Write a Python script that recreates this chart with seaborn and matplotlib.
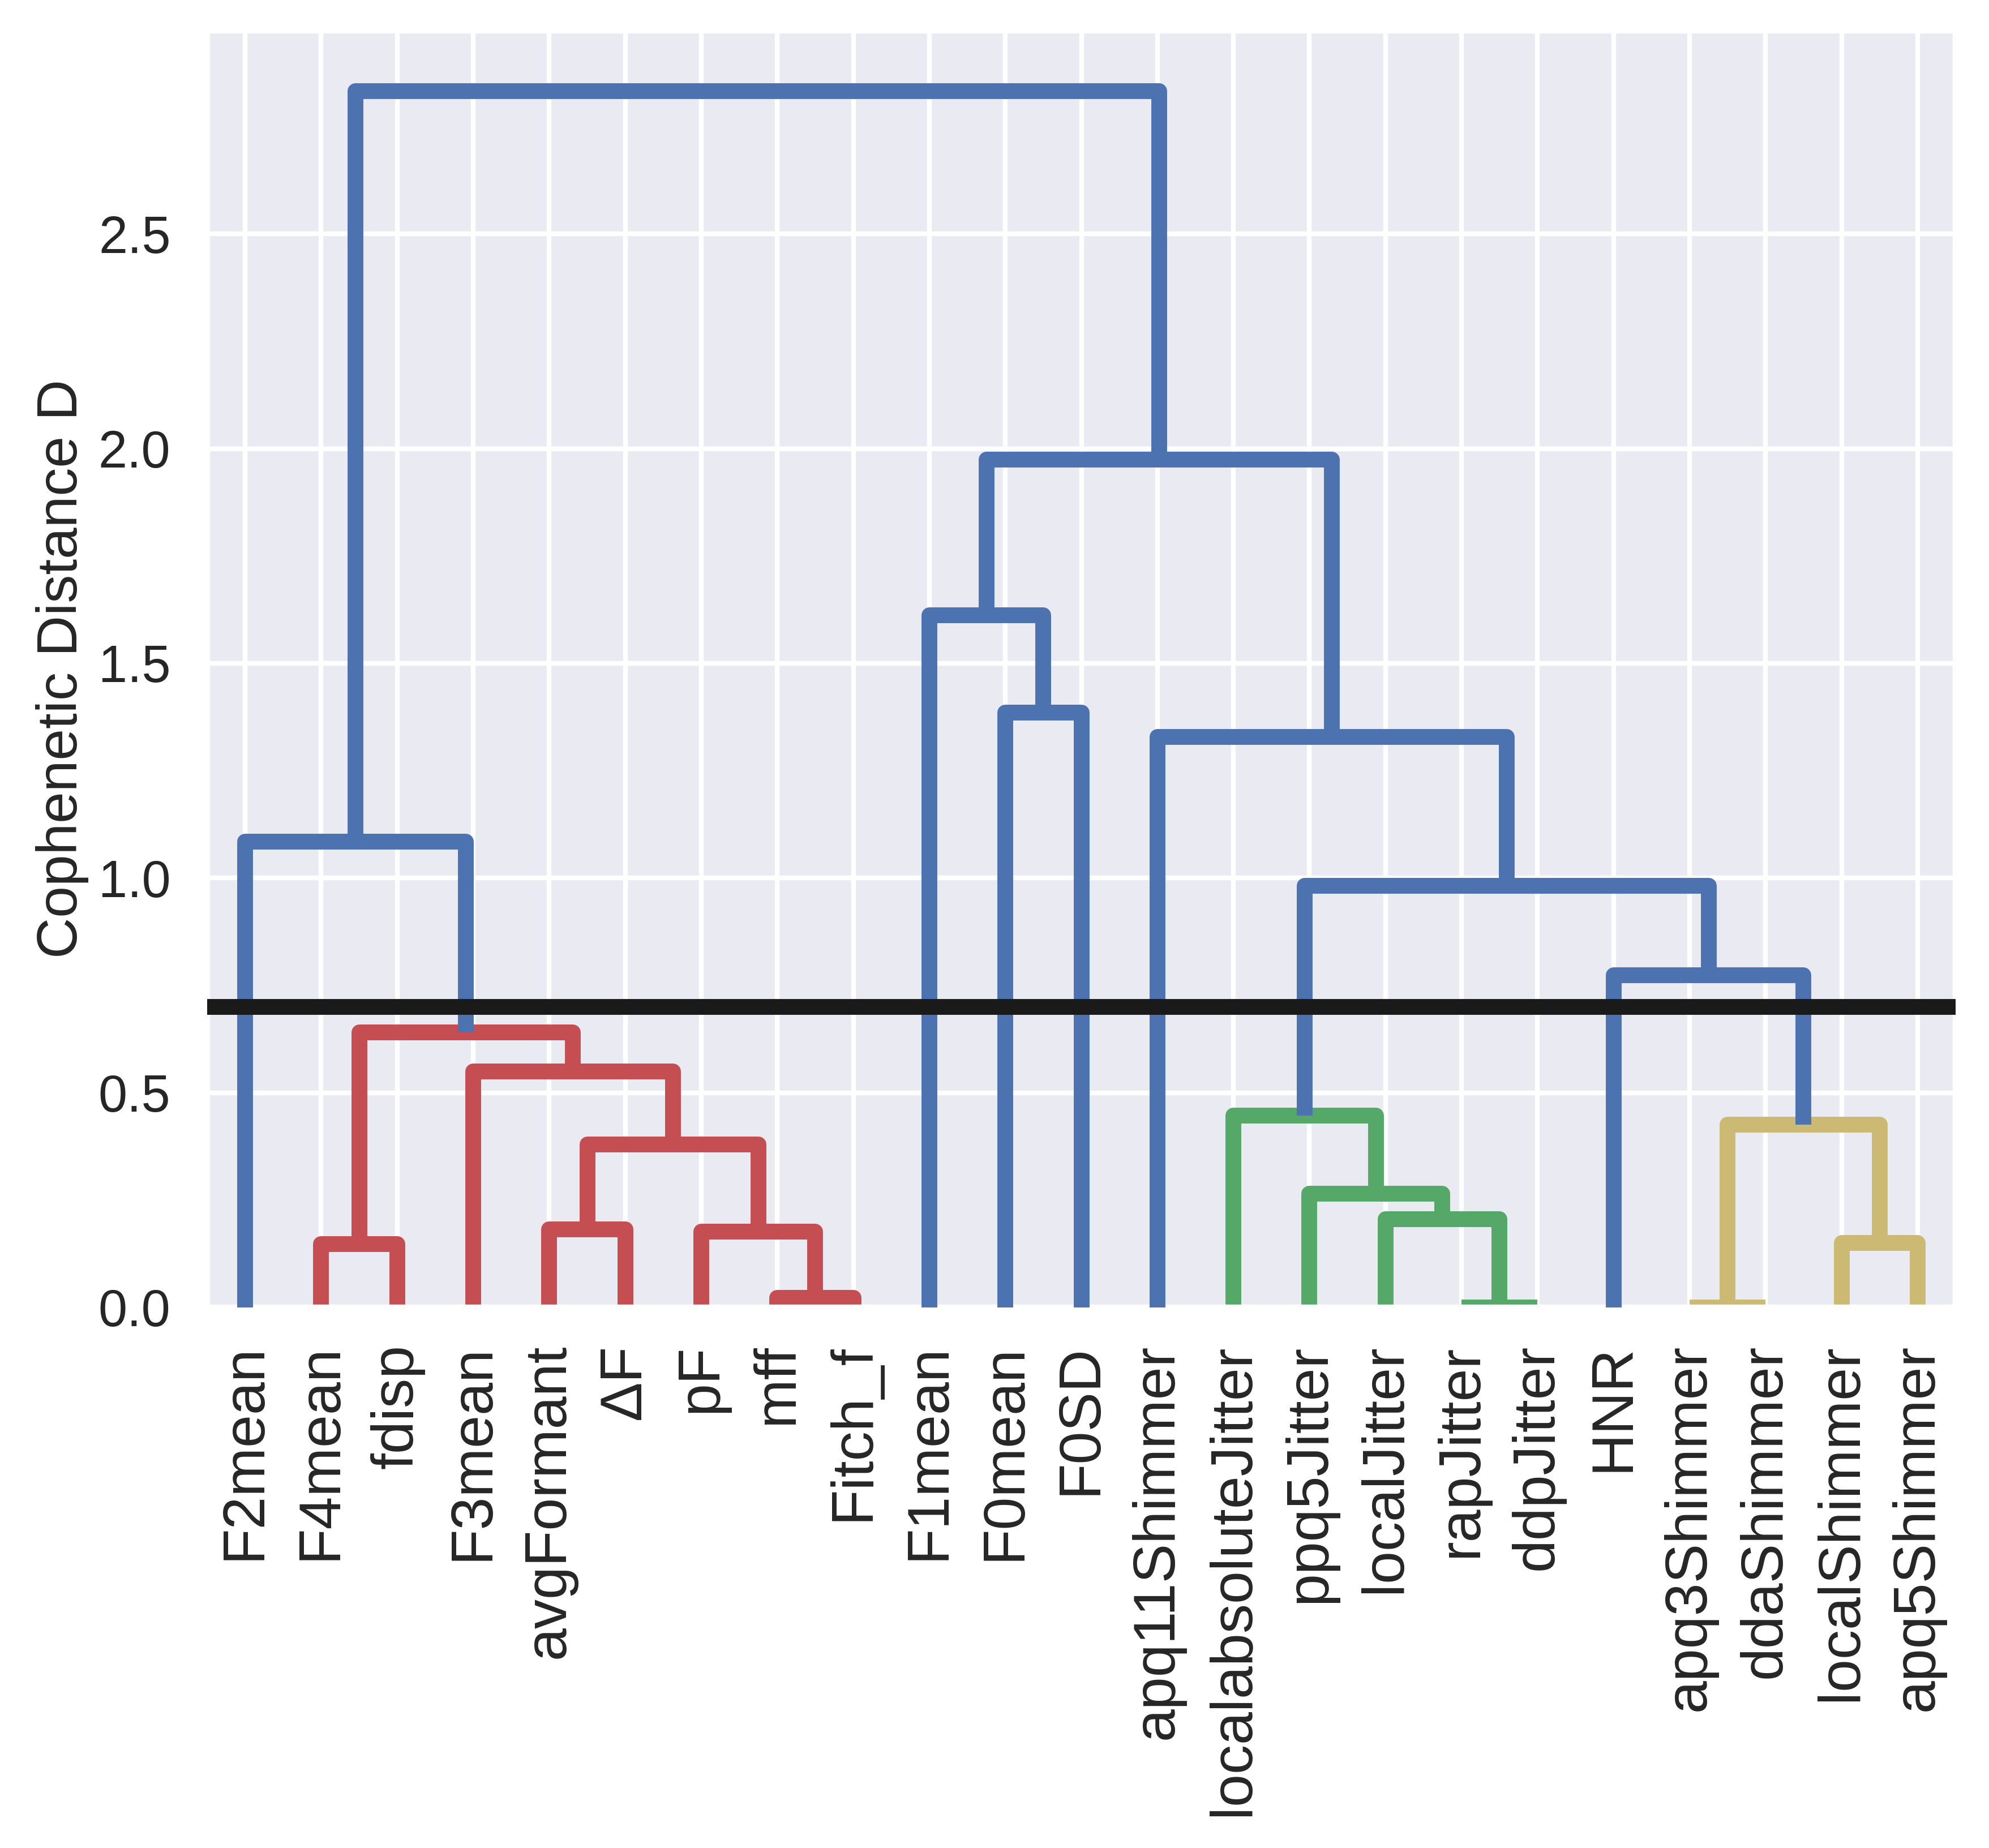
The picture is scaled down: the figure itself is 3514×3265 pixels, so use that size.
import numpy as np
import pandas as pd
import matplotlib
matplotlib.use('Agg')
import matplotlib.pyplot as plt
import seaborn as sns

sns.set_theme(context='poster', style='darkgrid', color_codes=True)
plt.rcParams['font.family'] = ['Liberation Sans', 'DejaVu Sans']

# leaves in dendrogram order
leaf_labels = ['F2mean', 'F4mean', 'fdisp', 'F3mean', 'avgFormant', 'ΔF', 'pF', 'mff',
               'Fitch_f', 'F1mean', 'F0mean', 'F0SD', 'apq11Shimmer', 'localabsoluteJitter',
               'ppq5Jitter', 'localJitter', 'rapJitter', 'ddpJitter', 'HNR', 'apq3Shimmer',
               'ddaShimmer', 'localShimmer', 'apq5Shimmer']

# linkage (scipy style): node ids < n are leaves, n + k is merge k
link_left = [16, 19, 7, 1, 21, 6, 4, 15, 14, 29, 24, 13, 3, 26, 18, 34, 0, 12, 10, 9, 42, 39]
link_right = [17, 20, 8, 2, 22, 25, 5, 23, 30, 28, 27, 31, 32, 35, 33, 37, 36, 38, 11, 41, 40, 43]
link_height = [0.0, 0.0, 0.023, 0.147, 0.15, 0.176, 0.182, 0.206, 0.265, 0.379, 0.426,
               0.447, 0.55, 0.641, 0.774, 0.982, 1.085, 1.329, 1.385, 1.612, 1.974, 2.832]

threshold = 0.7
cluster_colors = ['r', 'g', 'y']
above_color = 'b'

n = len(leaf_labels)
links = pd.DataFrame({'left': link_left, 'right': link_right, 'height': link_height})

# node positions
node_x = {i: 5 + 10 * i for i in range(n)}
node_h = {i: 0.0 for i in range(n)}
parent = {}
for k, row in links.iterrows():
    node = n + k
    node_x[node] = (node_x[row['left']] + node_x[row['right']]) / 2
    node_h[node] = row['height']
    parent[row['left']] = node
    parent[row['right']] = node

# colour clusters below the cut
def cluster_root(node):
    while node in parent and node_h[parent[node]] < threshold:
        node = parent[node]
    return node

roots = sorted({cluster_root(n + k) for k in range(len(links)) if link_height[k] < threshold},
               key=lambda r: node_x[r])
root_color = {r: cluster_colors[i % len(cluster_colors)] for i, r in enumerate(roots)}

fig = plt.figure(figsize=(3514 / 300, 3265 / 300), dpi=300)
ax = fig.add_axes([366 / 3514, 1 - 2310 / 3265, (3455 - 366) / 3514, (2310 - 54) / 3265])

lw = 6.7
for k, row in links.iterrows():
    node = n + k
    l, r, h = row['left'], row['right'], row['height']
    if h < threshold:
        c, z = root_color[cluster_root(node)], 2
    else:
        c, z = above_color, 3
    ax.plot([node_x[l], node_x[l], node_x[r], node_x[r]],
            [node_h[l], h, h, node_h[r]],
            color=c, lw=lw, solid_capstyle='butt', solid_joinstyle='round', zorder=z)

ax.axhline(threshold, color='k', lw=lw, zorder=4)

ax.set_xlim(0, 10 * n)
ax.set_ylim(0, max(link_height) * 1.05)
ax.set_xticks([node_x[i] for i in range(n)])
ax.set_xticklabels(leaf_labels, rotation=90, fontsize=25)
ax.set_yticks(np.arange(0, 3.0, 0.5))
ax.set_ylabel('Cophenetic Distance D')

fig.savefig('out.png', dpi=300)
